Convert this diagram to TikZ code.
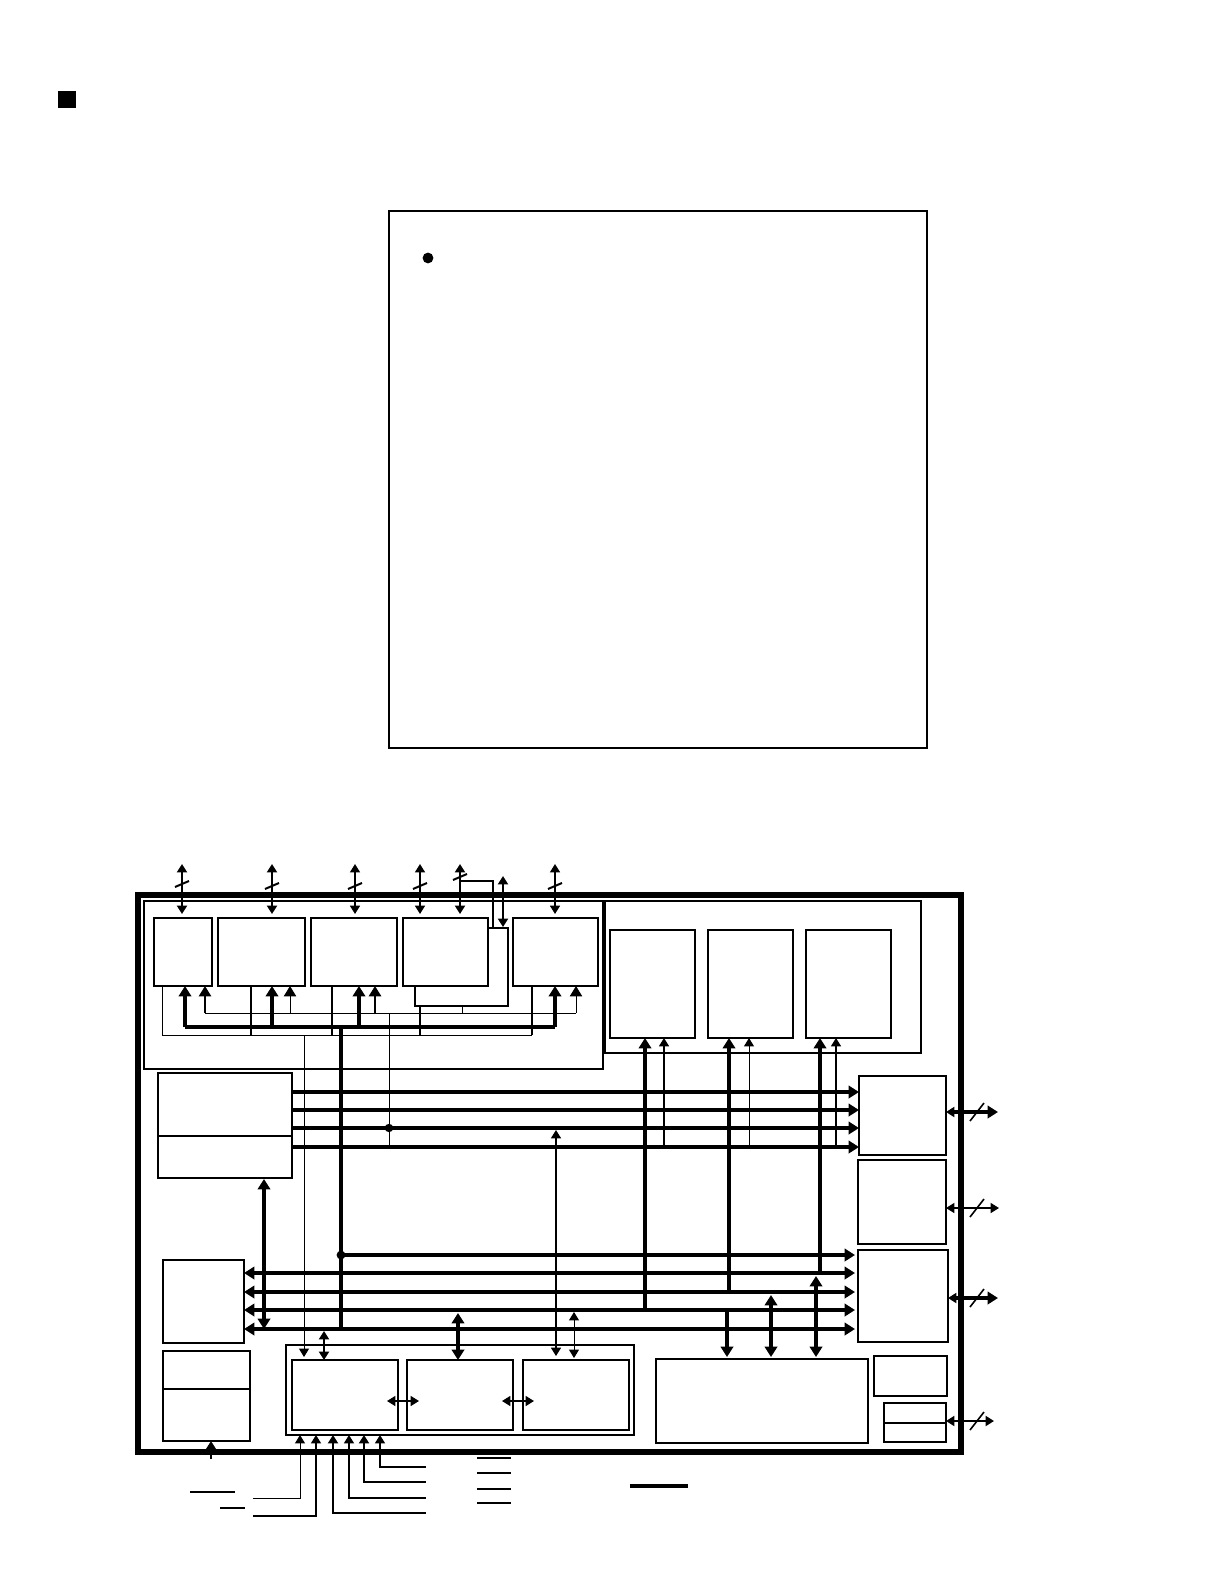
\documentclass[tikz,border=0pt]{standalone}
\usetikzlibrary{arrows.meta}
\tikzset{
  boxn/.style={draw,rectangle,inner sep=0pt,outer sep=0pt,fill=white,line width=0.8pt},
  wa/.style={line width=0.5pt},
  wb/.style={line width=0.8pt},
  wc/.style={line width=1pt},
  wbus/.style={line width=1.6pt},
  we/.style={line width=1.8pt},
  hd/.tip={Triangle[length=5.2pt,width=6.2pt]},
  hs/.tip={Triangle[length=4.2pt,width=5pt]},
  gap/.style={shorten >=#1*0.5pt},
  gapb/.style={shorten <=#1*0.5pt},
  flat/.style={line join=miter,line cap=butt}
}
\newcommand\mybox[6][]{\node[boxn,minimum width={(#5-#3)*0.5pt},minimum height={(#6-#4)*0.5pt},#1] (#2) at ({(#3+#5)/2},{(#4+#6)/2}) {};}
\newcommand\slashT[2]{\draw[wc] (c#1 |- r#2) ++(-7,3) -- ++(14,-6);}
\newcommand\slashR[2]{\draw[wb] (c#1 |- r#2) ++(-7,9) -- ++(14,-18);}
\begin{document}
\begin{tikzpicture}[x=0.5pt,y=-0.5pt,flat]
\useasboundingbox (0,0) rectangle (1224,1584);
\foreach \v in {162,182,185,205,251,272,290,304,324,333,332,341,359,355,375,380,364,316,300,349,389,420,460,462,458,493,503,532,555,556,574,576,645,664,729,749,820,836,727,771,816,264,211,190,235,220,245,253,426,477,511,630,688,977,998,999,994,387,419,502,534}{\coordinate (c\v) at (\v,0);}
\foreach \v in {864,877,881,884,886,928,987,1006,1013,1027,1035,1039,1092,1110,1128,1147,1130,1149,1255,1273,1276,1292,1295,1310,1312,1313,1329,1331,1355,1356,1357,1401,1436,1441,1459,1467,1473,1482,1486,1489,1492,1498,1503,1508,1513,1516,1458,1112,1208,1298,1421,1179,876}{\coordinate (r\v) at (0,\v);}

% header square and text frame
\node[fill=black,inner sep=0pt,outer sep=0pt,minimum width=8.7pt,minimum height=8.5pt] (sq) at (66.8,99.5) {};
\mybox{frame}{389}{211}{927}{748}
\node[circle,fill=black,inner sep=0pt,minimum size=5.4pt] (dot0) at (428,258) {};

% outer frame
\mybox[line width=3pt,fill=none]{chip}{138}{895}{961}{1452}
% blocks
\mybox[line width=0.8pt,fill=none]{groupA}{144}{901}{603}{1069}
\mybox[line width=0.8pt,fill=none]{groupB}{604}{901}{921}{1053}
\draw[line width=1.6pt] (groupB.north west) -- (groupB.south west);
\mybox{bb}{415}{928}{508}{1006}
\mybox{ba}{154}{918}{212}{986}
\mybox{bc}{218}{918}{305}{986}
\mybox{bd}{311}{918}{397}{986}
\mybox{be}{403}{918}{488}{986}
\mybox{bf}{513}{918}{598}{986}
\mybox{ga}{610}{930}{695}{1038}
\mybox{gb}{708}{930}{793}{1038}
\mybox{gc}{806}{930}{891}{1038}
\mybox{la}{158}{1073}{292}{1178}
\draw[wb] (158,1136) -- (292,1136);
\mybox{lb}{163}{1260}{244}{1343}
\mybox{lc}{163}{1351}{250}{1441}
\draw[wb] (163,1389) -- (250,1389);
\mybox{ca}{286}{1345}{634}{1435}
\mybox{cb}{292}{1360}{398}{1430}
\mybox{cc}{407}{1360}{513}{1430}
\mybox{cd}{523}{1360}{629}{1430}
\mybox{ra}{859}{1076}{946}{1155}
\mybox{rb}{858}{1160}{946}{1244}
\mybox{rc}{858}{1250}{948}{1342}
\mybox{rd}{874}{1356}{947}{1396}
\mybox{re}{884}{1403}{946}{1442}
\draw[wb] (884,1423) -- (946,1423);
\mybox{big}{656}{1359}{868}{1443}

% top bus arrows
\draw[{hs}-{hs},wc,gap=4] (c182 |- r864) -- (ba.north -| c182);
\draw[{hs}-{hs},wc,gap=4] (c272 |- r864) -- (bc.north -| c272);
\draw[{hs}-{hs},wb,gap=4] (c355 |- r864) -- (bd.north -| c355);
\draw[{hs}-{hs},wb,gap=4] (c420 |- r864) -- (be.north -| c420);
\draw[{hs}-{hs},wc,gap=4] (c460 |- r864) -- (be.north -| c460);
\draw[{hs}-{hs},wb,gap=4] (c555 |- r864) -- (bf.north -| c555);
\draw[{hs}-{hs},wc,gap=1] (c503 |- r876) -- (bb.north -| c503);
\draw[wc] (c460 |- r881) -- (c493 |- r881) -- (bb.north -| c493);
\slashT{182}{884}\slashT{272}{886}\slashT{355}{886}\slashT{420}{886}\slashT{460}{877}\slashT{555}{886}

% thick internal bus
\draw[we] (c185 |- r1027) -- (c555 |- r1027);
\draw[-{hd},we] (c185 |- r1027) -- (ba.south -| c185);
\draw[-{hd},we] (c272 |- r1027) -- (bc.south -| c272);
\draw[-{hd},we] (c359 |- r1027) -- (bd.south -| c359);
\draw[-{hd},we] (c555 |- r1027) -- (bf.south -| c555);
% thin internal bus
\draw[wa] (c205 |- r1013) -- (c576 |- r1013);
\draw[-{hd},wb] (c205 |- r1013) -- (ba.south -| c205);
\draw[-{hd},wa] (c290 |- r1013) -- (bc.south -| c290);
\draw[-{hd},wc] (c375 |- r1013) -- (bd.south -| c375);
\draw[-{hd},wa] (c576 |- r1013) -- (bf.south -| c576);
\draw[wa] (bb.south -| c462) -- (c462 |- r1013);
% second thin bus
\draw[wa] (c162 |- r1035) -- (c532 |- r1035);
\draw[wa] (ba.south -| c162) -- (c162 |- r1035);
\draw[wb] (bc.south -| c251) -- (c251 |- r1035);
\draw[wb] (bd.south -| c332) -- (c332 |- r1035);
\draw[wb] (bb.south -| c420) -- (c420 |- r1035);
\draw[wb] (bf.south -| c532) -- (c532 |- r1035);
\draw[-{hs},wa,gap=3] (c304 |- r1035) -- (cb.north -| c304);
\draw[wa] (c389 |- r1013) -- (c389 |- r1149);
\node[circle,fill=black,inner sep=0pt,minimum size=4.2pt] (dot1) at (c389 |- r1128) {};

% bus group 1
\draw[-{hd},wbus] (la.east |- r1092) -- (ra.west |- r1092);
\draw[-{hd},wbus] (la.east |- r1110) -- (ra.west |- r1110);
\draw[-{hd},wbus] (la.east |- r1128) -- (ra.west |- r1128);
\draw[-{hd},wbus] (la.east |- r1147) -- (ra.west |- r1147);
% bus group 2
\draw[-{hd},wbus,gap=3] (c341 |- r1255) -- (rc.west |- r1255);
\foreach \r in {1273,1292,1310,1329}{\draw[{hd}-{hd},wbus,gap=3] (lb.east |- r\r) -- (rc.west |- r\r);}
\draw[we] (c341 |- r1027) -- (c341 |- r1329);
\node[circle,fill=black,inner sep=0pt,minimum size=4.4pt] (dot2) at (c341 |- r1255) {};
\draw[{hd}-{hd},wbus,gapb=1] (la.south -| c264) -- (c264 |- r1329);
% risers
\draw[-{hd},we] (c645 |- r1310) -- (ga.south -| c645);
\draw[-{hd},we] (c729 |- r1292) -- (gb.south -| c729);
\draw[-{hd},we] (c820 |- r1273) -- (gc.south -| c820);
\draw[-{hs},wb] (c664 |- r1147) -- (ga.south -| c664);
\draw[-{hs},wa] (c749 |- r1147) -- (gb.south -| c749);
\draw[-{hs},wb] (c836 |- r1147) -- (gc.south -| c836);
\draw[{hs}-{hs},wb,gap=4] (c556 |- r1130) -- (cd.north -| c556);
% to big block
\draw[-{hd},we,gap=2] (c727 |- r1310) -- (big.north -| c727);
\draw[{hd}-{hd},we,gap=2] (c771 |- r1295) -- (big.north -| c771);
\draw[{hd}-{hd},we,gap=2] (c816 |- r1276) -- (big.north -| c816);
% group C links
\draw[{hs}-{hs},wc] (c324 |- r1331) -- (cb.north -| c324);
\draw[{hd}-{hd},line width=1.8pt] (c458 |- r1313) -- (cc.north -| c458);
\draw[{hs}-{hs},wa,gap=2] (c574 |- r1312) -- (cd.north -| c574);
\draw[{hs}-{hs},wb] (c387 |- r1401) -- (c419 |- r1401);
\draw[{hs}-{hs},wb] (c502 |- r1401) -- (c534 |- r1401);
% bottom inputs
\draw[-{hs},wa] (c253 |- r1498) -- (c300 |- r1498) -- (ca.south -| c300);
\draw[-{hs},wb] (c253 |- r1516) -- (c316 |- r1516) -- (ca.south -| c316);
\draw[-{hs},wc] (c426 |- r1513) -- (c333 |- r1513) -- (ca.south -| c333);
\draw[-{hs},wb] (c426 |- r1498) -- (c349 |- r1498) -- (ca.south -| c349);
\draw[-{hs},wc] (c426 |- r1482) -- (c364 |- r1482) -- (ca.south -| c364);
\draw[-{hs},wb] (c426 |- r1467) -- (c380 |- r1467) -- (ca.south -| c380);
\draw[-{hs},wc] (c211 |- r1459) -- (lc.south -| c211);
% bars
\draw[wc] (c190 |- r1492) -- (c235 |- r1492);
\draw[wc] (c220 |- r1508) -- (c245 |- r1508);
\foreach \r in {1458,1473,1489,1503}{\draw[wc] (c477 |- r\r) -- (c511 |- r\r);}
\draw[we] (c630 |- r1486) -- (c688 |- r1486);
% right side ports
\draw[{hs}-{hd},wbus] (ra.east |- r1112) -- (c998 |- r1112);
\draw[{hs}-{hs},wb] (rb.east |- r1208) -- (c999 |- r1208);
\draw[{hs}-{hd},wbus] (rc.east |- r1298) -- (c998 |- r1298);
\draw[{hs}-{hs},wc] (re.east |- r1421) -- (c994 |- r1421);
\slashR{977}{1112}\slashR{977}{1208}\slashR{977}{1298}\slashR{977}{1421}
\end{tikzpicture}
\end{document}
